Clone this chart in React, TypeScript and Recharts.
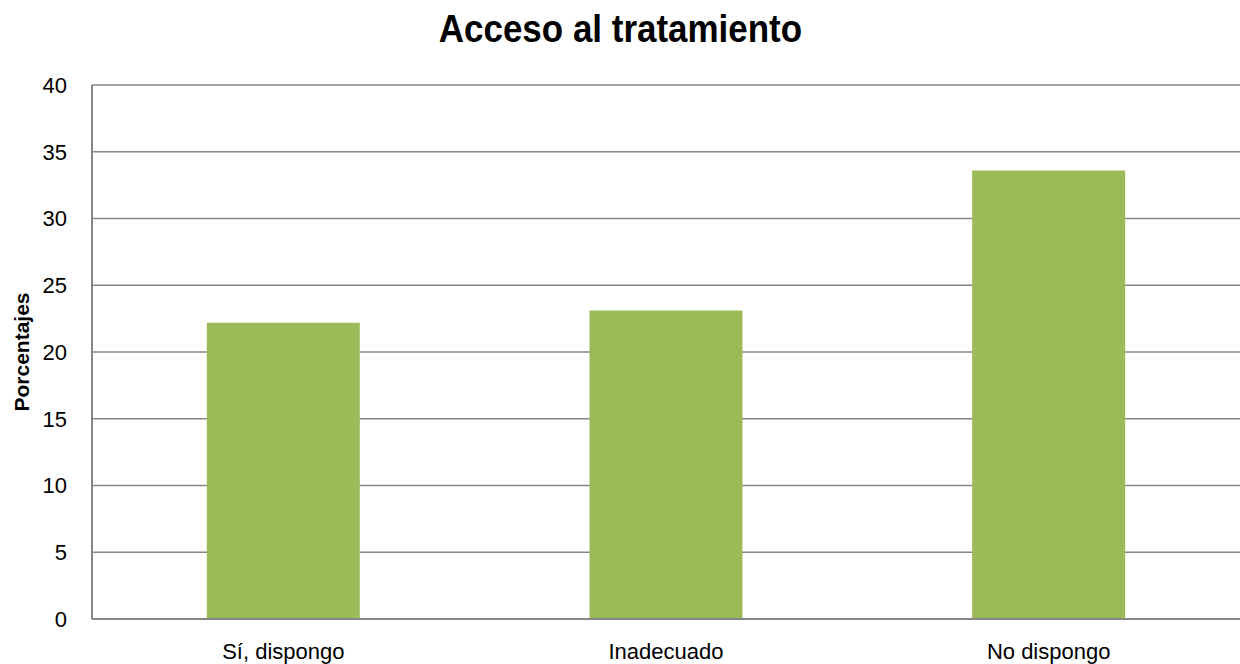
import React from 'react';
import { BarChart, Bar, XAxis, YAxis, CartesianGrid } from 'recharts';

// Categorías y porcentajes
const categorias = ['Sí, dispongo', 'Inadecuado', 'No dispongo'];
const porcentajes = [22.2, 23.1, 33.6];
const ticksY = [0, 5, 10, 15, 20, 25, 30, 35, 40];

const datos = categorias.map((nombre, i) => ({ nombre, valor: porcentajes[i] }));

const fuente = "'Liberation Sans Narrow', 'Arial Narrow', 'Liberation Sans', Arial, sans-serif";
const gris = '#868686';

export default function App() {
  return (
    <div style={{ position: 'absolute', left: 0, top: 0, width: 1240, height: 664, background: '#fff', fontFamily: fuente }}>
      <div
        style={{
          position: 'absolute',
          left: 0,
          top: 8,
          width: 1240,
          textAlign: 'center',
          fontWeight: 'bold',
          fontSize: 38,
          color: '#000',
        }}
      >
        <span style={{ display: 'inline-block', transform: 'scaleX(0.92)' }}>Acceso al tratamiento</span>
      </div>
      <BarChart
        width={1240}
        height={664}
        data={datos}
        margin={{ top: 85, right: 0, left: 0, bottom: 0 }}
        barCategoryGap="30%"
      >
        <CartesianGrid vertical={false} stroke={gris} strokeWidth={1.5} />
        <XAxis
          dataKey="nombre"
          height={45}
          tickLine={false}
          tickSize={0}
          tickMargin={24}
          stroke={gris}
          strokeWidth={2}
          tick={{ fill: '#000', fontSize: 22, fontFamily: fuente }}
        />
        <YAxis
          width={92}
          domain={[0, 40]}
          ticks={ticksY}
          interval={0}
          tickLine={false}
          tickSize={0}
          tickMargin={25}
          stroke={gris}
          strokeWidth={2}
          tick={{ fill: '#000', fontSize: 22, fontFamily: fuente }}
          label={{
            value: 'Porcentajes',
            angle: -90,
            position: 'insideLeft',
            offset: 22,
            style: { textAnchor: 'middle', fontWeight: 'bold', fontSize: 21, fill: '#000', fontFamily: fuente },
          }}
        />
        <Bar dataKey="valor" fill="#9BBB59" isAnimationActive={false} />
      </BarChart>
    </div>
  );
}
